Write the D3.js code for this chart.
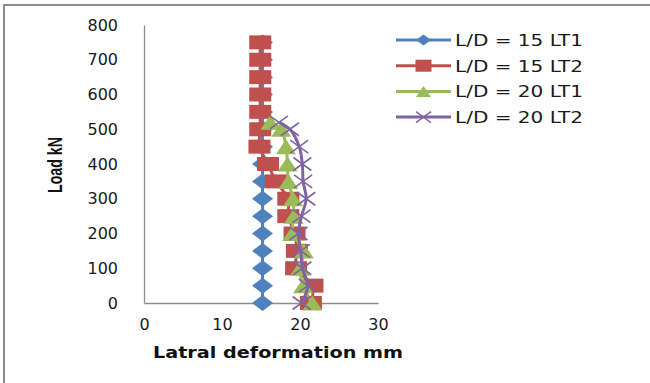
<!DOCTYPE html>
<html>
<head>
<meta charset="utf-8">
<script src="https://cdn.jsdelivr.net/npm/d3@7/dist/d3.min.js"></script>
<style>
	body { margin: 0; background: #fff; }
	svg { display: block; }
</style>
</head>
<body>
<div id="chart"></div>
<script>
// load steps (kN) and lateral deformation (mm)
var loadsLT1_15 = [0, 50, 100, 150, 200, 250, 300, 350, 400, 450, 500, 550, 600, 650, 700, 750];
var defLT1_15 = [15.2, 15.2, 15.2, 15.2, 15.2, 15.2, 15.2, 15.2, 15.2, 15.2, 15.2, 15.2, 15.2, 15.2, 15.2, 15.2];

var loadsLT2_15 = [0, 50, 100, 150, 200, 250, 300, 350, 400, 450, 500, 550, 600, 650, 700, 750];
var defLT2_15 = [21.4, 21.6, 19.5, 19.6, 19.3, 18.5, 18.5, 16.9, 15.9, 14.8, 14.9, 14.9, 14.9, 14.9, 14.9, 14.9];

var loadsLT1_20 = [0, 50, 100, 150, 200, 250, 300, 350, 400, 450, 500, 520];
var defLT1_20 = [21.6, 20.4, 20.0, 20.5, 19.0, 19.2, 19.1, 18.5, 18.4, 18.2, 17.6, 16.2];

var loadsLT2_20 = [0, 50, 100, 150, 200, 250, 300, 350, 400, 450, 500, 520];
var defLT2_20 = [20.2, 21.0, 20.3, 20.1, 19.8, 20.2, 20.8, 20.4, 20.3, 19.9, 18.7, 17.3];

var seriesNames = ["L/D = 15 LT1", "L/D = 15 LT2", "L/D = 20 LT1", "L/D = 20 LT2"];
var seriesColors = ["#4F81BD", "#C0504D", "#9BBB59", "#8064A2"];
var seriesMarkers = ["diamond", "square", "triangle", "cross"];

var xTicks = [0, 10, 20, 30];
var yTicks = [0, 100, 200, 300, 400, 500, 600, 700, 800];

var width = 650, height = 383;

var svg = d3.select('#chart').append('svg')
	.attr('width', width)
	.attr('height', height);

// outer frame (only left and top edges show)
svg.append('path')
	.attr('d', 'M4,383 L4,5 L650,5')
	.attr('fill', 'none')
	.attr('stroke', '#8c8c8c')
	.attr('stroke-width', 2);

var xScale = d3.scaleLinear().domain([0, 30]).range([144, 378]);
var yScale = d3.scaleLinear().domain([0, 800]).range([303, 25]);

var xAxis = svg.append('g')
	.attr('transform', 'translate(0,' + yScale(0) + ')')
	.call(d3.axisBottom(xScale).tickValues(xTicks).tickSize(0).tickPadding(16));

var yAxis = svg.append('g')
	.attr('transform', 'translate(' + xScale(0) + ',0)')
	.call(d3.axisLeft(yScale).tickValues(yTicks).tickSize(0).tickPadding(26));

[xAxis, yAxis].forEach(function (ax) {
	ax.select('.domain').attr('stroke', '#8c8c8c').attr('stroke-width', 1.3);
	ax.selectAll('text')
		.attr('fill', '#1a1a1a')
		.style('font-family', 'DejaVu Sans, Verdana, sans-serif')
		.style('font-size', '16px');
});

// axis titles
svg.append('text')
	.attr('x', 278)
	.attr('y', 358)
	.attr('text-anchor', 'middle')
	.attr('textLength', 250)
	.attr('lengthAdjust', 'spacingAndGlyphs')
	.style('font-family', 'DejaVu Sans, Verdana, sans-serif')
	.style('font-weight', 'bold')
	.style('font-size', '16px')
	.attr('fill', '#111')
	.text('Latral deformation mm');

svg.append('text')
	.attr('transform', 'translate(62,165) rotate(-90)')
	.attr('text-anchor', 'middle')
	.attr('textLength', 56)
	.attr('lengthAdjust', 'spacingAndGlyphs')
	.style('font-family', 'Liberation Sans Narrow, Arial Narrow, Liberation Sans, sans-serif')
	.style('font-weight', 'bold')
	.style('font-size', '21px')
	.attr('fill', '#111')
	.text('Load kN');

// marker shapes, wider than tall like the reference
function markerPath(type, w, h) {
	var a = w / 2, b = h / 2;
	if (type === 'diamond') return 'M0,' + (-b) + 'L' + a + ',0L0,' + b + 'L' + (-a) + ',0Z';
	if (type === 'square') return 'M' + (-a) + ',' + (-b) + 'H' + a + 'V' + b + 'H' + (-a) + 'Z';
	if (type === 'triangle') return 'M0,' + (-b) + 'L' + a + ',' + b + 'L' + (-a) + ',' + b + 'Z';
	return 'M' + (-a) + ',' + (-b) + 'L' + a + ',' + b + 'M' + a + ',' + (-b) + 'L' + (-a) + ',' + b;
}

var markerSize = {
	diamond: [21, 16],
	square: [22, 14],
	triangle: [20, 15],
	cross: [18, 13]
};

var allSeries = [
	{ loads: loadsLT1_15, defs: defLT1_15 },
	{ loads: loadsLT2_15, defs: defLT2_15 },
	{ loads: loadsLT1_20, defs: defLT1_20 },
	{ loads: loadsLT2_20, defs: defLT2_20 }
];

var line = d3.line()
	.x(function (d) { return xScale(d.x); })
	.y(function (d) { return yScale(d.y); })
	.curve(d3.curveCatmullRom.alpha(0.5));

allSeries.forEach(function (s, i) {
	var pts = s.loads.map(function (l, j) { return { x: s.defs[j], y: l }; });
	var g = svg.append('g');
	var color = seriesColors[i];
	var type = seriesMarkers[i];
	var sz = markerSize[type];

	g.append('path')
		.datum(pts)
		.attr('d', line)
		.attr('fill', 'none')
		.attr('stroke', color)
		.attr('stroke-width', 3);

	g.selectAll('path.mk').data(pts)
		.enter().append('path')
		.attr('class', 'mk')
		.attr('transform', function (d) {
			return 'translate(' + xScale(d.x) + ',' + yScale(d.y) + ')';
		})
		.attr('d', markerPath(type, sz[0], sz[1]))
		.attr('fill', type === 'cross' ? 'none' : color)
		.attr('stroke', type === 'cross' ? color : 'none')
		.attr('stroke-width', 1.6);
});

// legend
var legend = svg.append('g');
seriesNames.forEach(function (name, i) {
	var ly = 40 + i * 25.7;
	var type = seriesMarkers[i];
	var color = seriesColors[i];
	legend.append('line')
		.attr('x1', 396).attr('x2', 451)
		.attr('y1', ly).attr('y2', ly)
		.attr('stroke', color)
		.attr('stroke-width', 3);
	legend.append('path')
		.attr('transform', 'translate(423.5,' + ly + ')')
		.attr('d', markerPath(type, type === 'square' ? 16 : 15, type === 'square' ? 12 : 11))
		.attr('fill', type === 'cross' ? 'none' : color)
		.attr('stroke', type === 'cross' ? color : 'none')
		.attr('stroke-width', 1.4);
	legend.append('text')
		.attr('x', 455)
		.attr('y', ly + 6)
		.attr('textLength', 128)
		.attr('lengthAdjust', 'spacingAndGlyphs')
		.style('font-family', 'DejaVu Sans, Verdana, sans-serif')
		.style('font-size', '16px')
		.attr('fill', '#1a1a1a')
		.text(name);
});
</script>
</body>
</html>
